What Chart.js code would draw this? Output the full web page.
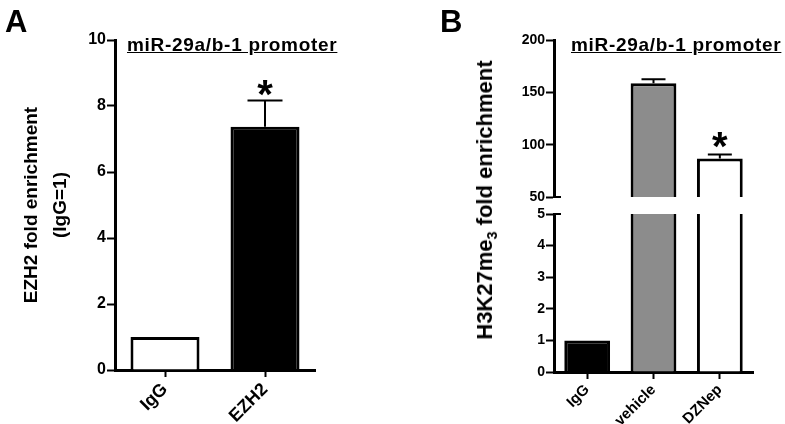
<!DOCTYPE html>
<html>
<head>
<meta charset="utf-8">
<script src="https://cdn.jsdelivr.net/npm/chart.js@4.4.0/dist/chart.umd.min.js"></script>
<style>
  body { margin: 0; background: #fff; }
  #wrap { position: relative; width: 785px; height: 424px; overflow: hidden; font-family: 'Liberation Sans', Arial, sans-serif; color: #000; }
  canvas { position: absolute; left: 0; top: 0; }
  .panel { position: absolute; font-weight: bold; font-size: 31px; line-height: 31px; }
  .title { position: absolute; font-weight: bold; font-size: 19px; line-height: 19px; text-decoration: underline; letter-spacing: 0.7px; white-space: nowrap; }
  #ytitleB { position: absolute; left: 485px; top: 200px; transform: translate(-50%, -50%) rotate(-90deg); font-weight: bold; font-size: 22px; line-height: 22px; white-space: nowrap; }
  #ytitleB sub { font-size: 65%; line-height: 0; vertical-align: -0.35em; }
</style>
</head>
<body>
<div id="wrap">
  <canvas id="chartA" width="785" height="424"></canvas>
  <canvas id="chartBbot" width="785" height="424"></canvas>
  <canvas id="chartBtop" width="785" height="424"></canvas>
  <div class="panel" style="left:5px; top:6px;">A</div>
  <div class="panel" style="left:440px; top:6px;">B</div>
  <div class="title" style="left:127px; top:35px;">miR-29a/b-1 promoter</div>
  <div class="title" style="left:571px; top:35px;">miR-29a/b-1 promoter</div>
  <div id="ytitleB">H3K27me<sub>3</sub> fold enrichment</div>
</div>
<script>
// panel A: EZH2 ChIP
const labelsA = ['IgG', 'EZH2'];
const meanA = [1.0, 7.37];
const semA = [0, 0.8];
const starA = ['', '*'];
const colorsA = ['#ffffff', '#000000'];
const ticksA = [0, 2, 4, 6, 8, 10];

// panel B: H3K27me3 ChIP, broken y axis
const labelsB = ['IgG', 'vehicle', 'DZNep'];
const meanB = [1.0, 158.6, 86.9];
const semB = [0, 4.0, 3.8];
const starB = ['', '', '*'];
const colorsB = ['#000000', '#8c8c8c', '#ffffff'];
const ticksBTop = [50, 100, 150, 200];
const ticksBBottom = [0, 1, 2, 3, 4, 5];

Chart.defaults.font.family = "'Liberation Sans', Arial, sans-serif";
Chart.defaults.color = '#000';

// mean + SEM whiskers and significance stars, only where the bar top is inside the axis range
const errorBars = {
  id: 'errorBars',
  afterDatasetsDraw(chart, args, opts) {
    const ctx = chart.ctx;
    const y = chart.scales.y;
    const bars = chart.getDatasetMeta(0).data;
    ctx.save();
    ctx.strokeStyle = '#000';
    ctx.lineWidth = 2;
    bars.forEach((bar, i) => {
      const v = opts.mean[i], e = opts.sem[i];
      if (v < y.min || v > y.max || !(e > 0)) return;
      const yTop = y.getPixelForValue(v + e);
      ctx.beginPath();
      ctx.moveTo(bar.x, bar.y);
      ctx.lineTo(bar.x, yTop);
      ctx.moveTo(bar.x - opts.cap, yTop);
      ctx.lineTo(bar.x + opts.cap, yTop);
      ctx.stroke();
      if (opts.star[i]) {
        ctx.font = 'bold 40px ' + Chart.defaults.font.family;
        ctx.fillStyle = '#000';
        ctx.textAlign = 'center';
        ctx.textBaseline = 'alphabetic';
        const m = ctx.measureText(opts.star[i]);
        const cy = yTop - opts.gap;
        const base = cy - (m.actualBoundingBoxDescent - m.actualBoundingBoxAscent) / 2;
        ctx.fillText(opts.star[i], bar.x, base);
      }
    });
    ctx.restore();
  }
};

// small marks where the y axis is broken
const axisBreak = {
  id: 'axisBreak',
  afterDraw(chart, args, opts) {
    if (!opts.edge) return;
    const a = chart.chartArea;
    const yy = opts.edge === 'top' ? a.top : a.bottom;
    const ctx = chart.ctx;
    ctx.save();
    ctx.strokeStyle = '#000';
    ctx.lineWidth = 2;
    ctx.beginPath();
    ctx.moveTo(a.left - 1, yy);
    ctx.lineTo(a.left + 7, yy);
    ctx.stroke();
    ctx.restore();
  }
};

function yScale(ticks, size, width, title) {
  return {
    min: ticks[0],
    max: ticks[ticks.length - 1],
    grid: { drawOnChartArea: false, tickLength: 8, tickWidth: 2, tickColor: '#000' },
    border: { color: '#000', width: 3 },
    ticks: { stepSize: ticks[1] - ticks[0], padding: 1, font: { size: size, weight: 'bold' } },
    title: title,
    afterFit: s => { s.width = width; }
  };
}

function xScale(size, height, show) {
  return {
    display: show,
    grid: { drawOnChartArea: false, offset: false, tickLength: 7, tickWidth: 2, tickColor: '#000' },
    border: { color: '#000', width: 3 },
    ticks: { autoSkip: false, minRotation: 45, maxRotation: 45, padding: 2, font: { size: size, weight: 'bold' } },
    afterFit: s => { s.height = height; }
  };
}

function barChart(id, labels, mean, colors, padding, scales, extra) {
  return new Chart(document.getElementById(id), {
    type: 'bar',
    data: {
      labels: labels,
      datasets: [{
        data: mean,
        backgroundColor: colors,
        borderColor: '#000',
        borderWidth: 3,
        barPercentage: 0.69,
        categoryPercentage: 1,
        clip: 0
      }]
    },
    options: {
      responsive: false,
      animation: false,
      layout: { padding: padding },
      plugins: Object.assign({ legend: { display: false }, tooltip: { enabled: false } }, extra),
      scales: scales
    },
    plugins: [errorBars, axisBreak]
  });
}

barChart('chartA', labelsA, meanA, colorsA,
  { left: 0, top: 40, right: 470, bottom: 0 },
  {
    x: xScale(18, 54, true),
    y: yScale(ticksA, 16, 115, {
      display: true,
      text: ['EZH2 fold enrichment', '(IgG=1)'],
      font: { size: 19, weight: 'bold', lineHeight: 1.5 },
      padding: { top: 18, bottom: 0 }
    })
  },
  { errorBars: { mean: meanA, sem: semA, star: starA, cap: 17.5, gap: 12.5 } });

barChart('chartBtop', labelsB, meanB, colorsB,
  { left: 400, top: 40, right: 32, bottom: 227 },
  { x: xScale(15, 0, false), y: yScale(ticksBTop, 14, 154, { display: false }) },
  { errorBars: { mean: meanB, sem: semB, star: starB, cap: 12, gap: 14.5 }, axisBreak: { edge: 'bottom' } });

barChart('chartBbot', labelsB, meanB, colorsB,
  { left: 400, top: 214, right: 32, bottom: 0 },
  { x: xScale(15, 52, true), y: yScale(ticksBBottom, 14, 154, { display: false }) },
  { errorBars: { mean: meanB, sem: semB, star: starB, cap: 12, gap: 14.5 }, axisBreak: { edge: 'top' } });
</script>
</body>
</html>
